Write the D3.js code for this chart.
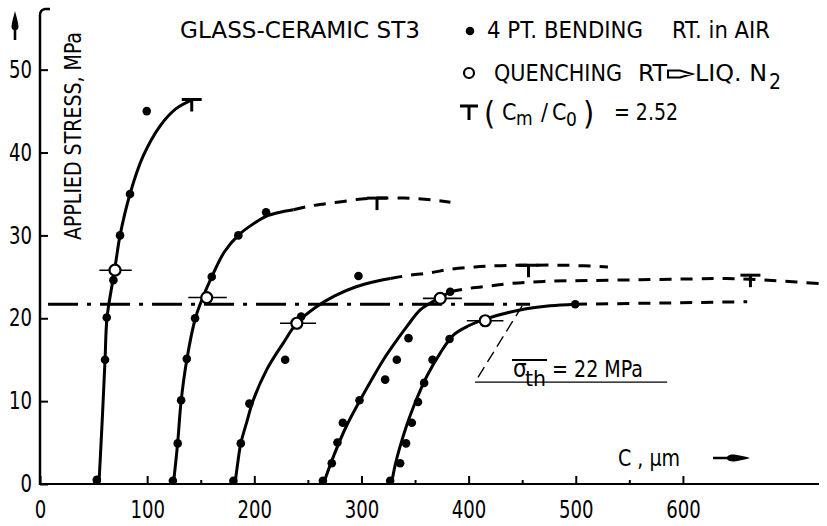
<!DOCTYPE html>
<html><head><meta charset="utf-8">
<script src="https://cdn.jsdelivr.net/npm/d3@7"></script>
<style>
html,body{margin:0;padding:0;background:#fff;}
svg{display:block;}
text{font-family:"DejaVu Sans Condensed","Liberation Sans Narrow","DejaVu Sans",sans-serif;font-stretch:condensed;fill:#000;}
</style></head>
<body>
<svg id="chart" width="827" height="526"></svg>
<script>
// ---------------- DATA ----------------
const xTicks = [0, 100, 200, 300, 400, 500, 600];
const xMinorTicks = [50, 150, 250, 350, 450, 550];
const yTicks = [0, 10, 20, 30, 40, 50];

// 4 PT. bending points (c in µm, applied stress in MPa)
const bending1 = [[53,0.5],[60.7,15],[62.3,20.1],[68.5,24.6],[74.7,30],[84,35],[99.6,45]];
const bending2 = [[124,0.4],[128.5,4.9],[131.7,10.1],[137,15.1],[144.7,20],[160.3,25],[185.1,30],[211,32.8]];
const bending3 = [[180.5,0.4],[187.4,4.9],[195.4,9.7],[228.8,15],[243.7,20.2],[297.2,25.1]];
const bending4 = [[264,0.4],[272.3,2.5],[277.6,5],[282.6,7.4],[298.2,10.1],[322.1,12.6],[333,15],[343.9,17.6],[382.8,23.2]];
const bending5 = [[326.8,0.4],[336.1,2.5],[341.6,4.9],[347,7.4],[352.8,9.9],[358.5,12.2],[366.3,15],[382.2,17.5],[499.5,21.7]];

// Quenching RT -> liq. N2 points with horizontal scatter bars
const quenchC     = [70, 155.6, 239.7, 373.5, 415.5];
const quenchS     = [25.8, 22.5, 19.4, 22.4, 19.7];
const quenchCLow  = [55.4, 138.4, 224, 357.3, 398.3];
const quenchCHigh = [85.6, 174.3, 257.7, 393.7, 432.5];

// (Cm/C0) = 2.52 markers
const tMarkC = [141.6, 314.5, 455.9, 663];
const tMarkS = [46.4, 34.5, 26.4, 25.2];

// fitted curves (solid) and extrapolations (dashed)
const curve1Solid = [[55,0],[58,7.5],[60.7,15],[62.5,20],[68,24.6],[71,27],[74.7,30],[84,35],[96,39.5],[112,43.2],[127,45.3],[141,46.3]];
const curve2Solid = [[124.5,0],[128.5,5],[131.7,10],[137,15],[145,20],[152.5,22.7],[160.3,25],[172,28],[185,30],[198,31.3],[211,32.3],[224,32.8],[236.5,33.1]];
const curve2Dash  = [[236.5,33.1],[250,33.5],[265,33.8],[283,34.1],[300,34.4],[314.5,34.5],[340,34.5],[365,34.3],[383,34.0]];
const curve3Solid = [[182,0],[184.5,2.5],[187.4,4.9],[193,7.5],[199,10.1],[211.6,13.8],[227,17],[239.6,19.4],[257,21.3],[275,22.7],[295,23.8],[315,24.5],[327,24.8]];
const curve3Dash  = [[327,24.8],[345,25.2],[365,25.5],[382,25.9],[406,26.2],[430,26.35],[455.9,26.4],[490,26.4],[530,26.2]];
const curve4Solid = [[264.5,0],[273.8,3.3],[286,7],[298.7,10.1],[310,12.7],[320.5,15],[331,17],[342.3,19],[354.8,21],[364,21.8],[373.5,22.5],[382.8,23.2]];
const curve4Dash  = [[382.8,23.2],[400,23.6],[420,23.9],[440,24.2],[470,24.45],[510,24.55],[560,24.65],[610,24.75],[640,24.8],[663,24.7],[690,24.5],[727,24.2]];
const curve5Solid = [[328,0],[331.5,2.3],[336,4.5],[342,7],[348.5,9.3],[361,13],[373.5,15.8],[386,18],[400,19.1],[415.5,19.9],[448,21],[476,21.5],[499.5,21.7]];
const curve5Dash  = [[499.5,21.7],[560,21.8],[610,21.9],[660,22.0]];

// threshold stress line (dash-dot) and its leader
const thresholdS = 21.7;
const thresholdC = [7.5, 457.4];
const leaderLine = [[450,21.5],[406,12.3]];
const leaderUnder = [[406,12.3],[585.3,12.3]];

// ---------------- DRAW ----------------
const svg = d3.select("#chart");
const x = d3.scaleLinear().domain([0, 727]).range([40, 819]);
const y = d3.scaleLinear().domain([0, 57.2]).range([484, 10]);

const line = d3.line().x(d => x(d[0])).y(d => y(d[1])).curve(d3.curveCatmullRom.alpha(0.5));
const straight = d3.line().x(d => x(d[0])).y(d => y(d[1]));

// axes lines
svg.append("path")
  .attr("d", `M${x(0)},${y(0)} H${x(727)}`)
  .attr("stroke", "#000").attr("stroke-width", 2.2).attr("fill", "none");
svg.append("path")
  .attr("d", `M${x(0)},${y(0)+1} V${y(57.2)+5} Q${x(0)},${y(57.2)} ${x(0)+5},${y(57.2)-1} H${x(0)+10}`)
  .attr("stroke", "#000").attr("stroke-width", 2.5).attr("fill", "none");

// x axis ticks + labels
const xAxis = d3.axisBottom(x).tickValues(xTicks).tickSize(-8).tickPadding(17).tickFormat(d3.format("d"));
const gx = svg.append("g").attr("transform", `translate(0,${y(0)})`).call(xAxis);
gx.select(".domain").remove();
gx.selectAll(".tick line").attr("stroke", "#000").attr("stroke-width", 2);
gx.selectAll(".tick text").attr("font-size", 24).attr("font-family", null)
  .attr("textLength", d => String(d).length * 11.5).attr("lengthAdjust", "spacingAndGlyphs");

const xMinor = d3.axisBottom(x).tickValues(xMinorTicks).tickSize(-4).tickFormat("");
const gxm = svg.append("g").attr("transform", `translate(0,${y(0)})`).call(xMinor);
gxm.select(".domain").remove();
gxm.selectAll(".tick line").attr("stroke", "#000").attr("stroke-width", 2);

// y axis ticks + labels
const yAxis = d3.axisLeft(y).tickValues(yTicks).tickSize(-8).tickPadding(8).tickFormat(d3.format("d"));
const gy = svg.append("g").attr("transform", `translate(${x(0)},0)`).call(yAxis);
gy.select(".domain").remove();
gy.selectAll(".tick line").attr("stroke", "#000").attr("stroke-width", 2);
gy.selectAll(".tick text").attr("font-size", 24).attr("font-family", null)
  .attr("textLength", d => String(d).length * 11.5).attr("lengthAdjust", "spacingAndGlyphs");

// axis titles
svg.append("text")
  .attr("transform", `translate(81,${136}) rotate(-90)`)
  .attr("text-anchor", "middle").attr("font-size", 23)
  .attr("textLength", 208).attr("lengthAdjust", "spacingAndGlyphs")
  .text("APPLIED STRESS, MPa");
svg.append("text").attr("x", 618).attr("y", 466).attr("font-size", 23)
  .attr("textLength", 62).attr("lengthAdjust", "spacingAndGlyphs")
  .text("C , µm");

// arrows on axes
svg.append("path")
  .attr("d", "M15,11 C16.5,17 18.5,23 18.5,27 C18.5,29 17,30 16.3,30 L16.3,40 L13.7,40 L13.7,30 C13,30 11.5,29 11.5,27 C11.5,23 13.5,17 15,11 Z")
  .attr("fill", "#000");
svg.append("path")
  .attr("d", "M713,456.8 L727,456.8 C729,454.5 732,454.3 736,454.8 C741,455.5 746,456.8 750,458 C746,459.2 741,460.5 736,461.2 C732,461.7 729,461.5 727,459.2 L713,459.2 Z")
  .attr("fill", "#000");

// threshold dash-dot line
svg.append("path")
  .attr("d", straight([[thresholdC[0], thresholdS], [thresholdC[1], thresholdS]]))
  .attr("stroke", "#000").attr("stroke-width", 3).attr("fill", "none")
  .attr("stroke-dasharray", "30,9,4,9");

// leader for sigma_th label
svg.append("path").attr("d", straight(leaderLine))
  .attr("stroke", "#000").attr("stroke-width", 1.4).attr("fill", "none").attr("stroke-dasharray", "12,6");
svg.append("path").attr("d", straight(leaderUnder))
  .attr("stroke", "#000").attr("stroke-width", 1.3).attr("fill", "none");

// curves
const solids = [curve1Solid, curve2Solid, curve3Solid, curve4Solid, curve5Solid];
const dashes = [curve2Dash, curve3Dash, curve4Dash, curve5Dash];
svg.append("g").selectAll("path").data(solids).join("path")
  .attr("d", line).attr("stroke", "#000").attr("stroke-width", 3).attr("fill", "none");
svg.append("g").selectAll("path").data(dashes).join("path")
  .attr("d", line).attr("stroke", "#000").attr("stroke-width", 3).attr("fill", "none")
  .attr("stroke-dasharray", "12,9");

// T markers
const tg = svg.append("g").selectAll("g").data(tMarkC.map((c, i) => [c, tMarkS[i]])).join("g");
tg.append("line").attr("x1", d => x(d[0]) - 10).attr("x2", d => x(d[0]) + 10)
  .attr("y1", d => y(d[1])).attr("y2", d => y(d[1])).attr("stroke", "#000").attr("stroke-width", 3);
tg.append("line").attr("x1", d => x(d[0])).attr("x2", d => x(d[0]))
  .attr("y1", d => y(d[1])).attr("y2", d => y(d[1]) + 12).attr("stroke", "#000").attr("stroke-width", 3);

// bending dots
const allBending = [].concat(bending1, bending2, bending3, bending4, bending5);
svg.append("g").selectAll("circle").data(allBending).join("circle")
  .attr("cx", d => x(d[0])).attr("cy", d => y(d[1])).attr("r", 4.3).attr("fill", "#000");

// quenching points with bars
const q = quenchC.map((c, i) => ({c, s: quenchS[i], lo: quenchCLow[i], hi: quenchCHigh[i]}));
svg.append("g").selectAll("line").data(q).join("line")
  .attr("x1", d => x(d.lo)).attr("x2", d => x(d.hi))
  .attr("y1", d => y(d.s)).attr("y2", d => y(d.s))
  .attr("stroke", "#000").attr("stroke-width", 1.6);
svg.append("g").selectAll("circle").data(q).join("circle")
  .attr("cx", d => x(d.c)).attr("cy", d => y(d.s)).attr("r", 5.5)
  .attr("fill", "#fff").attr("stroke", "#000").attr("stroke-width", 2.2);

// sigma_th label
const lab = svg.append("g");
lab.append("text").attr("x", 513).attr("y", 377).attr("font-size", 24).text("σ");
lab.append("text").attr("x", 525).attr("y", 386).attr("font-size", 22)
  .attr("textLength", 21).attr("lengthAdjust", "spacingAndGlyphs").text("th");
lab.append("line").attr("x1", 512).attr("x2", 547).attr("y1", 360).attr("y2", 360)
  .attr("stroke", "#000").attr("stroke-width", 1.8);
lab.append("text").attr("x", 552).attr("y", 377).attr("font-size", 23)
  .attr("textLength", 91).attr("lengthAdjust", "spacingAndGlyphs").text("= 22 MPa");

// title
svg.append("text").attr("x", 180).attr("y", 38).attr("font-size", 23)
  .attr("textLength", 240).attr("lengthAdjust", "spacingAndGlyphs")
  .text("GLASS-CERAMIC  ST3");

// legend
svg.append("circle").attr("cx", 470).attr("cy", 31).attr("r", 4.3).attr("fill", "#000");
svg.append("text").attr("x", 487).attr("y", 38).attr("font-size", 23)
  .attr("textLength", 156).attr("lengthAdjust", "spacingAndGlyphs").text("4 PT. BENDING");
svg.append("text").attr("x", 672).attr("y", 38).attr("font-size", 23)
  .attr("textLength", 98).attr("lengthAdjust", "spacingAndGlyphs").text("RT. in AIR");

svg.append("circle").attr("cx", 469).attr("cy", 73).attr("r", 5).attr("fill", "#fff")
  .attr("stroke", "#000").attr("stroke-width", 2.2);
svg.append("text").attr("x", 494).attr("y", 81).attr("font-size", 23)
  .attr("textLength", 128).attr("lengthAdjust", "spacingAndGlyphs").text("QUENCHING");
svg.append("text").attr("x", 638).attr("y", 81).attr("font-size", 23)
  .attr("textLength", 29).attr("lengthAdjust", "spacingAndGlyphs").text("RT");
svg.append("path").attr("d", "M668,70.5 L680,70.5 L692,74 L680,77.5 L668,77.5 Z")
  .attr("fill", "none").attr("stroke", "#000").attr("stroke-width", 2);
svg.append("text").attr("x", 695).attr("y", 81).attr("font-size", 23)
  .attr("textLength", 72).attr("lengthAdjust", "spacingAndGlyphs").text("LIQ. N");
svg.append("text").attr("x", 769).attr("y", 89).attr("font-size", 21).text("2");

// T legend symbol and ratio text
svg.append("path").attr("d", "M460,106 H478 M469,106 V120")
  .attr("stroke", "#000").attr("stroke-width", 3).attr("fill", "none");
svg.append("text").attr("x", 484).attr("y", 124).attr("font-size", 32).text("(");
svg.append("text").attr("x", 502).attr("y", 120).attr("font-size", 23).text("C");
svg.append("text").attr("x", 516).attr("y", 125).attr("font-size", 19).text("m");
svg.append("text").attr("x", 541).attr("y", 120).attr("font-size", 23).text("/");
svg.append("text").attr("x", 552).attr("y", 120).attr("font-size", 23).text("C");
svg.append("text").attr("x", 566).attr("y", 126).attr("font-size", 19).text("0");
svg.append("text").attr("x", 583).attr("y", 124).attr("font-size", 32).text(")");
svg.append("text").attr("x", 614).attr("y", 120).attr("font-size", 23)
  .attr("textLength", 64).attr("lengthAdjust", "spacingAndGlyphs").text("=  2.52");
</script>
</body></html>
